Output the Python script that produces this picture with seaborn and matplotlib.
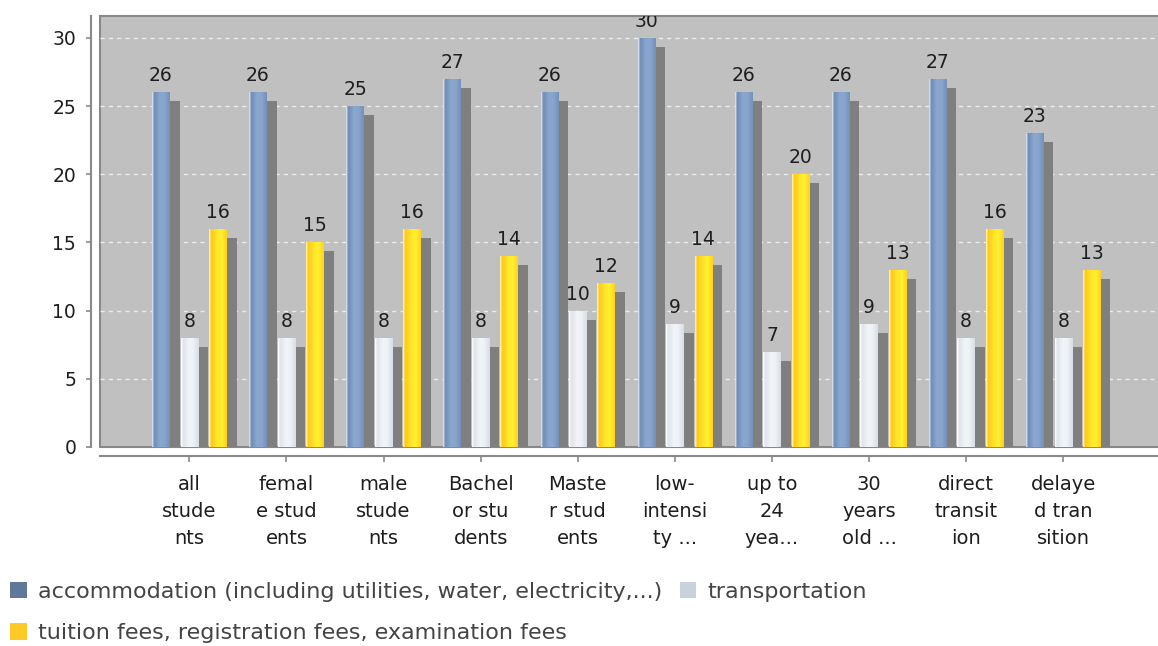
import numpy as np
import pandas as pd
import matplotlib
matplotlib.use("Agg")
import matplotlib.pyplot as plt
import seaborn as sns
from matplotlib import patheffects as pe
from matplotlib.patches import Patch
from matplotlib.colors import LinearSegmentedColormap

plt.rcParams["font.family"] = ["DejaVu Sans"]

# ---------------- data ----------------
categories = ["all students", "female students", "male students", "Bachelor students",
              "Master students", "low-intensity students", "up to 24 years",
              "30 years old and over", "direct transition", "delayed transition"]
tick_labels = ["all\nstude\nnts", "femal\ne stud\nents", "male\nstude\nnts",
               "Bachel\nor stu\ndents", "Maste\nr stud\nents", "low-\nintensi\nty ...",
               "up to\n24\nyea...", "30\nyears\nold ...", "direct\ntransit\nion",
               "delaye\nd tran\nsition"]
series = ["accommodation (including utilities, water, electricity,...)",
          "transportation",
          "tuition fees, registration fees, examination fees"]
accommodation = [26, 26, 25, 27, 26, 30, 26, 26, 27, 23]
transportation = [8, 8, 8, 8, 10, 9, 7, 9, 8, 8]
tuition = [16, 15, 16, 14, 12, 14, 20, 13, 16, 13]
y_ticks = [0, 5, 10, 15, 20, 25, 30]

values = [accommodation, transportation, tuition]
df = pd.DataFrame({
    "category": [c for _ in series for c in categories],
    "series": [s for s in series for _ in categories],
    "value": [v for vals in values for v in vals],
})

bar_colors = ["#809dc8", "#e2e7ee", "#ffd61e"]
legend_colors = ["#5f7799", "#c9d1dd", "#ffc926"]
gradients = [
    ["#e8eef6", "#6f8cb6", "#8aa7d0", "#88a5ce", "#7590bb"],
    ["#ffffff", "#dfe4eb", "#f2f5f8", "#eef1f5", "#d8dee6"],
    ["#fff6c0", "#ffc81a", "#ffe62a", "#fff030", "#ffd21a"],
]

# ---------------- figure ----------------
fig = plt.figure(figsize=(11.58, 6.46), dpi=100)
W, H = 1158, 646
ax = fig.add_axes([100 / W, 1 - 447 / H, 1062 / W, 431 / H])

sns.barplot(data=df, x="category", y="value", hue="series", order=categories,
            hue_order=series, palette=bar_colors, width=0.88, gap=0.387,
            saturation=1, errorbar=None, legend=False, ax=ax, zorder=3)

shadow = pe.SimplePatchShadow(offset=(7.2, -6.5), shadow_rgbFace="#7f7f7f", alpha=1.0)
for ci, cont in enumerate(ax.containers):
    cmap = LinearSegmentedColormap.from_list(f"g{ci}", list(zip([0, 0.12, 0.45, 0.7, 1.0], gradients[ci])))
    grad = np.linspace(0, 1, 64).reshape(1, -1)
    for p in cont.patches:
        p.set_path_effects([shadow, pe.Normal()])
        p.set_edgecolor("none")
        x0, y0 = p.get_x(), p.get_y()
        w, h = p.get_width(), p.get_height()
        im = ax.imshow(grad, extent=[x0, x0 + w, y0, y0 + h], aspect="auto",
                       cmap=cmap, origin="lower", zorder=3.5, interpolation="bilinear")
        im.set_clip_path(p)
    ax.bar_label(cont, labels=[str(int(round(v))) for v in cont.datavalues],
                 padding=5, fontsize=13.5, color="#1e1e1e", clip_on=True)

# ---------------- axes styling ----------------
ax.set_xlim(-0.92, 10.017)
ax.set_ylim(0, 31.6)
ax.set_facecolor("#c0c0c0")
ax.patch.set_edgecolor("#888888")
ax.patch.set_linewidth(1.5)
ax.set_axisbelow(True)
ax.set_yticks(y_ticks)
ax.grid(False)
ax.hlines(y_ticks[1:], -0.92, 10.017, colors="#ececec", linestyles=(0, (3, 3)),
          linewidth=1, zorder=1)

for s in ["top", "right"]:
    ax.spines[s].set_visible(False)
for s in ["left", "bottom"]:
    ax.spines[s].set_position(("outward", 6.5))
    ax.spines[s].set_color("#8a8a8a")
    ax.spines[s].set_linewidth(1.5)

ax.set_xticks(range(len(categories)))
ax.set_xticklabels(tick_labels, fontsize=14, color="#1e1e1e", linespacing=1.55)
ax.tick_params(axis="y", labelsize=13.5, labelcolor="#1e1e1e", length=3.6,
               width=1.2, color="#8a8a8a", pad=7)
ax.tick_params(axis="x", length=4.3, width=1.2, color="#8a8a8a", pad=9)
ax.set_xlabel("")
ax.set_ylabel("")

handles = [Patch(facecolor=c, edgecolor="none") for c in legend_colors]
fig.legend([handles[0], handles[2], handles[1]], [series[0], series[2], series[1]],
           loc="upper left", bbox_to_anchor=(10 / W, 1 - 582 / H), ncol=2,
           frameon=False, fontsize=16, handlelength=0.75, handleheight=0.75,
           handletextpad=0.5, columnspacing=0.8, labelspacing=0.95,
           borderpad=0, borderaxespad=0, labelcolor="#444444")

fig.savefig("out.png", dpi=100, facecolor="white")
